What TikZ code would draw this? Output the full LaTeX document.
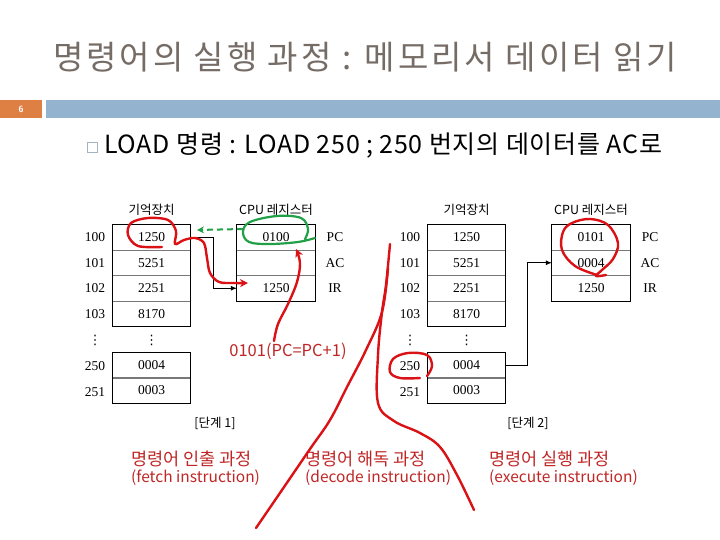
\documentclass[tikz,border=0pt]{standalone}
\usepackage{fontspec}
\setmainfont{Liberation Serif}
\newfontfamily\kr{Noto Sans CJK KR}
\newfontfamily\krtitle[LetterSpace=9]{Noto Sans CJK KR}
\newfontfamily\krline[LetterSpace=3]{Noto Sans CJK KR}
\newfontfamily\dejavu{DejaVu Sans}
\usetikzlibrary{arrows.meta}
\definecolor{titlegray}{RGB}{118,108,102}
\definecolor{barblue}{RGB}{148,179,206}
\definecolor{barorange}{RGB}{222,128,68}
\definecolor{handred}{RGB}{218,18,22}
\definecolor{textred}{RGB}{192,38,38}
\definecolor{handgreen}{RGB}{34,160,72}
\definecolor{bulletgray}{RGB}{165,178,192}
\definecolor{divgray}{RGB}{120,120,120}
\begin{document}
\begin{tikzpicture}[x=1pt,y=-1pt,
  cell/.style={minimum width=78pt,minimum height=25.5pt,inner sep=0pt,font=\fontsize{13.5}{14}\selectfont},
  addr/.style={inner sep=0pt,font=\fontsize{13.5}{14}\selectfont},
  vdot/.style={inner sep=0pt,font=\dejavu\fontsize{13}{13}\selectfont},
  head/.style={inner sep=0pt,font=\kr\fontsize{12.5}{13}\selectfont},
  outline/.style={draw=black,line width=0.9pt},
  divider/.style={draw=divgray,line width=1.4pt},
  blackarrow/.style={draw=black,line width=0.8pt,-{Latex[length=6pt,width=5pt]}},
  hand/.style={draw=handred,line width=2.4pt,line cap=round,line join=round},
  greenhand/.style={draw=handgreen,line width=2.2pt,line cap=round,line join=round},
  redlabel/.style={inner sep=0pt,anchor=west,text=textred,font=\kr\fontsize{17.5}{18}\selectfont},
  redlatin/.style={inner sep=0pt,anchor=west,text=textred,font=\kr\fontsize{15.5}{16}\selectfont}
]
\useasboundingbox (0,0) rectangle (720,540);
\fill[white] (0,0) rectangle (720,540);

% title
\node[inner sep=0pt,text=titlegray,font=\krtitle\fontsize{33}{35}\selectfont] (title) at (365,57) {명령어의 실행 과정 : 메모리서 데이터 읽기};

% bars
\fill[barorange] (0,100) rectangle (42,118);
\fill[barblue] (46,100) rectangle (720,118);
\node[inner sep=0pt,text=white,font=\sffamily\bfseries\fontsize{9}{9}\selectfont] (pnum) at (21,109) {6};

% bullet line
\node[draw=bulletgray,line width=0.8pt,minimum width=10pt,minimum height=10pt,inner sep=0pt] (bul) at (92.5,147.5) {};
\node[inner sep=0pt,anchor=west,font=\krline\fontsize{25}{27}\selectfont] (line1) at (104,146) {LOAD 명령 : LOAD 250 ; 250 번지의 데이터를 AC로};

% ---------- step 1 ----------
\begin{scope}
\node[head] (ahm) at (151.7,210) {기억장치};
\node[head] (ahc) at (276,210) {CPU 레지스터};
\node[cell] (am1) at (151.7,237.25) {1250};
\node[cell] (am2) at (151.7,262.75) {5251};
\node[cell] (am3) at (151.7,288.25) {2251};
\node[cell] (am4) at (151.7,313.75) {8170};
\node[cell] (am5) at (151.7,365) {0004};
\node[cell] (am6) at (151.7,390.5) {0003};
\draw[divider] (am1.south west) -- (am1.south east);
\draw[divider] (am2.south west) -- (am2.south east);
\draw[divider] (am3.south west) -- (am3.south east);
\draw[divider] (am5.south west) -- (am5.south east);
\draw[outline] (am1.north west) rectangle (am4.south east);
\draw[outline] (am5.north west) rectangle (am6.south east);
\node[addr] (aa1) at (95,237.25) {100};
\node[addr] (aa2) at (95,262.75) {101};
\node[addr] (aa3) at (95,288.25) {102};
\node[addr] (aa4) at (95,313.75) {103};
\node[addr] (aa5) at (95,366) {250};
\node[addr] (aa6) at (95,392) {251};
\node[vdot] (adl) at (95,340) {⋮};
\node[vdot] (adr) at (151.7,340) {⋮};
\node[cell] (aPC) at (276,237.25) {0100};
\node[cell] (aAC) at (276,262.75) {};
\node[cell] (aIR) at (276,288.25) {1250};
\draw[divider] (aPC.south west) -- (aPC.south east);
\draw[divider] (aAC.south west) -- (aAC.south east);
\draw[outline] (aPC.north west) rectangle (aIR.south east);
\node[addr] (apcl) at (335,237.25) {PC};
\node[addr] (aacl) at (335,262.75) {AC};
\node[addr] (airl) at (335,288.25) {IR};
\node[head] (astep) at (215,423) {[단계 1]};
\draw[blackarrow] (am1.east) -- ++(22,0) |- (aIR.west);
\end{scope}

% ---------- step 2 ----------
\begin{scope}[xshift=315pt]
\node[head] (bhm) at (151.7,210) {기억장치};
\node[head] (bhc) at (276,210) {CPU 레지스터};
\node[cell] (bm1) at (151.7,237.25) {1250};
\node[cell] (bm2) at (151.7,262.75) {5251};
\node[cell] (bm3) at (151.7,288.25) {2251};
\node[cell] (bm4) at (151.7,313.75) {8170};
\node[cell] (bm5) at (151.7,365) {0004};
\node[cell] (bm6) at (151.7,390.5) {0003};
\draw[divider] (bm1.south west) -- (bm1.south east);
\draw[divider] (bm2.south west) -- (bm2.south east);
\draw[divider] (bm3.south west) -- (bm3.south east);
\draw[divider] (bm5.south west) -- (bm5.south east);
\draw[outline] (bm1.north west) rectangle (bm4.south east);
\draw[outline] (bm5.north west) rectangle (bm6.south east);
\node[addr] (ba1) at (95,237.25) {100};
\node[addr] (ba2) at (95,262.75) {101};
\node[addr] (ba3) at (95,288.25) {102};
\node[addr] (ba4) at (95,313.75) {103};
\node[addr] (ba5) at (95,366) {250};
\node[addr] (ba6) at (95,392) {251};
\node[vdot] (bdl) at (95,340) {⋮};
\node[vdot] (bdr) at (151.7,340) {⋮};
\node[cell] (bPC) at (276,237.25) {0101};
\node[cell] (bAC) at (276,262.75) {0004};
\node[cell] (bIR) at (276,288.25) {1250};
\draw[divider] (bPC.south west) -- (bPC.south east);
\draw[divider] (bAC.south west) -- (bAC.south east);
\draw[outline] (bPC.north west) rectangle (bIR.south east);
\node[addr] (bpcl) at (335,237.25) {PC};
\node[addr] (bacl) at (335,262.75) {AC};
\node[addr] (birl) at (335,288.25) {IR};
\node[head] (bstep) at (213,423) {[단계 2]};
\draw[blackarrow] (bm5.east) -- ++(21,0) |- (bAC.west);
\end{scope}

% ---------- annotations ----------
\node[inner sep=0pt,text=textred,font=\kr\fontsize{16.5}{17}\selectfont] (inc) at (288,351) {0101(PC=PC+1)};

\node[redlabel] (f1) at (131,459) {명령어 인출 과정};
\node[redlatin] (f2) at (131,478) {(fetch instruction)};
\node[redlabel] (d1) at (305,459) {명령어 해독 과정};
\node[redlatin] (d2) at (305,478) {(decode instruction)};
\node[redlabel] (e1) at (489,459) {명령어 실행 과정};
\node[redlatin] (e2) at (489,478) {(execute instruction)};

% green loop and dashed arrow
\draw[greenhand] plot[smooth,tension=0.6] coordinates {(315,238)(298,242)(270,244)(249,242)(243,232)(250,222)(277,216)(301,218)(308,229)(305,239)};
\coordinate (gs) at (243,229);
\coordinate (ge) at (197,230);
\draw[handgreen,line width=2pt,dash pattern=on 6pt off 4pt,-{Stealth[length=7pt,width=7pt]}] (gs) -- (ge);

% red: fetch 1250 into IR
\draw[hand,-{Stealth[length=8pt,width=8pt]}] plot[smooth,tension=0.55] coordinates {(162,247)(138,246)(128,235)(131,223)(148,218)(168,220)(176,231)(175,244)(184,240)(195,238)(204,243)(207,258)(210,273)(219,282)(234,283)(248,283)};
% red: PC increment
\draw[hand,-{Stealth[length=8pt,width=8pt]}] plot[smooth,tension=0.6] coordinates {(274,341)(278,324)(288,304)(297,282)(300,263)(296,249)};

% step 2 red marks
\draw[hand] plot[smooth,tension=0.6] coordinates {(420,378)(400,378)(390,372)(393,359)(408,353)(427,355)(432,366)(427,376)};
\draw[hand] plot[smooth,tension=0.6] coordinates {(597,275)(575,266)(562,250)(563,232)(572,223)(590,219)(608,225)(618,243)(613,259)(602,270)(596,276)(606,275)};

% big separator strokes
\draw[hand] plot[smooth,tension=0.6] coordinates {(390,244)(386,285)(382,312)(378,355)(378,403)(394,421)(420,433)(440,447)(457,475)(474,510)};
\draw[hand] plot[smooth,tension=0.6] coordinates {(388,268)(382,312)(366,350)(347,387)(330,420)(310,449)(282,490)(256,528)};
\end{tikzpicture}
\end{document}
